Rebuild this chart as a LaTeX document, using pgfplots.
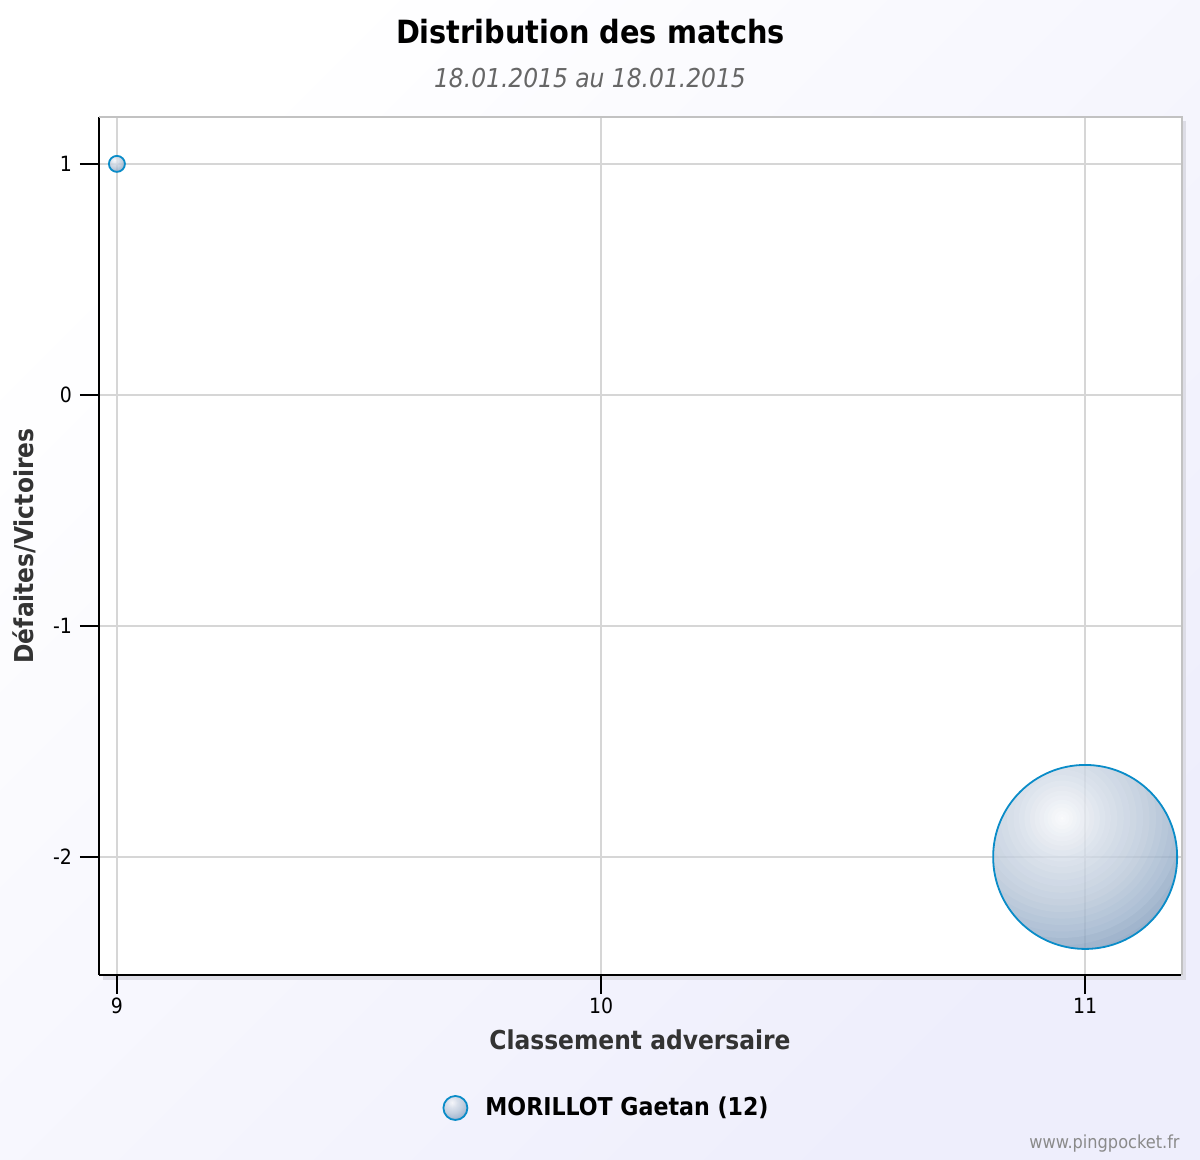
\documentclass[border=0pt]{standalone}
\usepackage{pgfplots}
\pgfplotsset{compat=1.18}
\usepackage{fontspec}
\setmainfont{DejaVu Sans Condensed}
\definecolor{bgend}{HTML}{EEEEFC}
\definecolor{gridc}{HTML}{D6D6D6}
\definecolor{bordc}{HTML}{C2C2C2}
\definecolor{shadowc}{HTML}{DDDDE6}
\definecolor{ballstroke}{HTML}{0A8CC8}
\definecolor{cA}{HTML}{F9FAFC}
\definecolor{cB}{HTML}{D2DBE7}
\definecolor{cC}{HTML}{B6C5D7}
\definecolor{cD}{HTML}{98AFCA}
\definecolor{cE}{HTML}{819CBC}
\definecolor{labgray}{HTML}{333333}
\definecolor{subgray}{HTML}{666666}
\definecolor{wmgray}{HTML}{8A8A8A}
\newcommand\ballring[2]{%
  \pgfpathcircle{\pgfqpoint{-0.25\pgfplotmarksize}{0.42\pgfplotmarksize}}{#1\pgfplotmarksize}%
  \pgfsetfillcolor{#2}\pgfusepath{fill}}
\pgfdeclareplotmark{ball3d}{%
  \pgfsetfillopacity{0.78}%
  \begin{pgftransparencygroup}%
    \pgfpathcircle{\pgfpointorigin}{\pgfplotmarksize}\pgfusepath{clip}%
    \ballring{1.55}{cE}%
    \ballring{1.45}{cD!25!cE}%
    \ballring{1.38}{cD!60!cE}%
    \ballring{1.30}{cD}%
    \ballring{1.23}{cC!20!cD}%
    \ballring{1.16}{cC!40!cD}%
    \ballring{1.09}{cC!60!cD}%
    \ballring{1.02}{cC!80!cD}%
    \ballring{0.95}{cC}%
    \ballring{0.88}{cB!16!cC}%
    \ballring{0.81}{cB!31!cC}%
    \ballring{0.74}{cB!47!cC}%
    \ballring{0.67}{cB!62!cC}%
    \ballring{0.60}{cB!78!cC}%
    \ballring{0.53}{cB!93!cC}%
    \ballring{0.47}{cA!6!cB}%
    \ballring{0.41}{cA!18!cB}%
    \ballring{0.35}{cA!30!cB}%
    \ballring{0.30}{cA!40!cB}%
    \ballring{0.25}{cA!50!cB}%
    \ballring{0.20}{cA!60!cB}%
    \ballring{0.16}{cA!68!cB}%
    \ballring{0.12}{cA!76!cB}%
    \ballring{0.08}{cA!84!cB}%
    \ballring{0.05}{cA!90!cB}%
    \ballring{0.02}{cA}%
  \end{pgftransparencygroup}%
  \pgfsetfillopacity{1}%
  \pgfpathcircle{\pgfpointorigin}{\pgfplotmarksize}%
  \pgfsetstrokecolor{ballstroke}%
  \pgfsetlinewidth{0.9pt}%
  \pgfusepath{stroke}%
}
\begin{document}
\begin{tikzpicture}
\useasboundingbox (-49.5pt,-92.5pt) rectangle (550.5pt,487.5pt);
\shade[top color=white, bottom color=bgend, shading angle=45] (-49.5pt,-92.5pt) rectangle (550.5pt,487.5pt);
\fill[shadowc] (2pt,-2.5pt) rectangle (543.5pt,427pt);
\begin{axis}[
  at={(0pt,0pt)}, anchor=south west,
  width=541pt, height=429pt, scale only axis,
  xmin=8.963, xmax=11.198, ymin=-2.511, ymax=1.203,
  axis x line*=bottom, axis y line*=left,
  axis line style={black, line width=1pt},
  xtick={9,10,11}, ytick={-2,-1,0,1},
  tick align=outside, major tick length=9.5pt,
  tick style={black, line width=1pt},
  grid=major, major grid style={gridc, line width=1pt},
  axis background/.style={fill=white},
  ticklabel style={font=\fontsize{10.5}{12}\selectfont},
  yticklabel style={xshift=-0.5pt},
  xticklabel style={yshift=1.5pt},
  /pgf/number format/assume math mode=true,
  xlabel={Classement adversaire},
  ylabel={Défaites/Victoires},
  xlabel style={at={(axis description cs:0.5,0)}, anchor=base, yshift=-37.5pt, font=\bfseries\fontsize{13}{15}\selectfont, text=labgray},
  ylabel style={at={(axis description cs:-0.06007,0.5)}, anchor=base, font=\bfseries\fontsize{13}{15}\selectfont, text=labgray},
  legend style={at={(axis description cs:0.4700,-0.155)}, anchor=center, draw=none, fill=none, font=\bfseries\fontsize{12.3}{14}\selectfont},
  legend image code/.code={\pgfsetplotmarksize{6pt}\pgfuseplotmark{ball3d}\pgfpathmoveto{\pgfpoint{13pt}{0pt}}\pgfusepath{discard}},
  clip=false,
]
\addplot[scatter, only marks, mark=ball3d,
  visualization depends on={\thisrow{r}\as\rad},
  scatter/@pre marker code/.append style={/tikz/mark size=\rad pt}]
  table[x=x, y=y] {
x y r
9 1 4
11 -2 46
};
\addlegendentry{MORILLOT Gaetan (12)}
\end{axis}
\draw[bordc, line width=1pt] (0pt,429pt) -- (541.5pt,429pt) -- (541.5pt,0pt);
\node[anchor=base, font=\bfseries\fontsize{16}{18}\selectfont] at (245.75pt,465.5pt) {Distribution des matchs};
\node[anchor=base, font=\itshape\fontsize{13}{15}\selectfont, text=subgray] at (245.5pt,443.5pt) {18.01.2015 au 18.01.2015};
\node[anchor=base east, font=\fontsize{9}{10}\selectfont, text=wmgray, inner sep=0pt] at (540.5pt,-87pt) {www.pingpocket.fr};
\end{tikzpicture}
\end{document}
